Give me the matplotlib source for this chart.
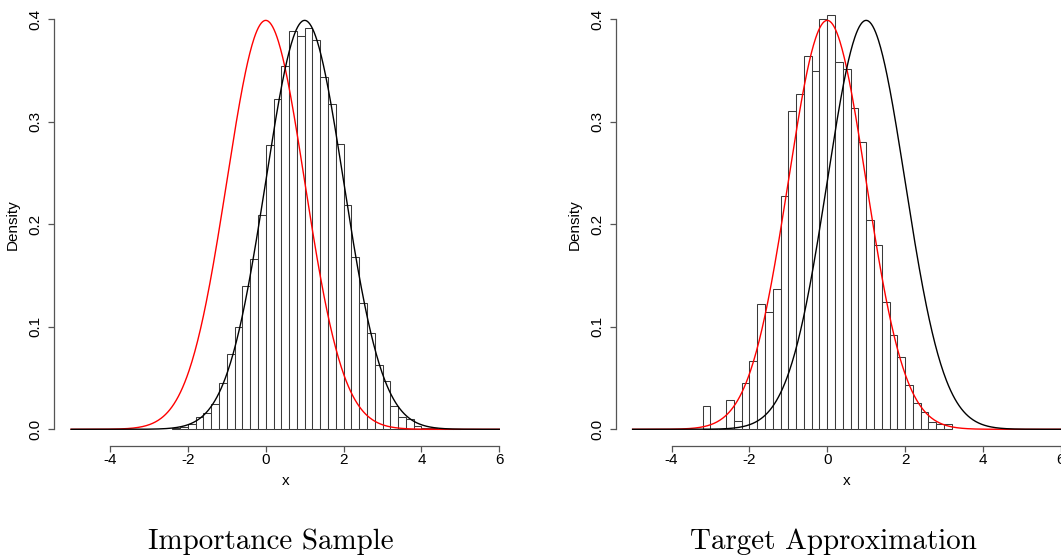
import numpy as np
import matplotlib
matplotlib.use("Agg")
import matplotlib.pyplot as plt

plt.rcParams["font.family"] = ["Liberation Sans", "DejaVu Sans"]

# Histogram of the importance sample (bin width 0.2), left edges and densities
imp_edges = [-2.4, -2.2, -2.0, -1.8, -1.6, -1.4, -1.2, -1.0, -0.8, -0.6,
             -0.4, -0.2, 0.0, 0.2, 0.4, 0.6, 0.8, 1.0, 1.2, 1.4,
             1.6, 1.8, 2.0, 2.2, 2.4, 2.6, 2.8, 3.0, 3.2, 3.4,
             3.6, 3.8, 4.0, 4.2, 4.4, 4.6, 4.8]
imp_density = [0.001, 0.002, 0.005, 0.012, 0.016, 0.025, 0.045, 0.073, 0.100, 0.140,
               0.166, 0.209, 0.277, 0.322, 0.354, 0.389, 0.384, 0.392, 0.380, 0.344,
               0.317, 0.278, 0.219, 0.168, 0.123, 0.094, 0.063, 0.047, 0.023, 0.012,
               0.010, 0.003, 0.0015, 0.001, 0.0005, 0.0005, 0.0005]

# Histogram of the resampled target approximation
tgt_edges = [-3.2, -3.0, -2.8, -2.6, -2.4, -2.2, -2.0, -1.8, -1.6, -1.4,
             -1.2, -1.0, -0.8, -0.6, -0.4, -0.2, 0.0, 0.2, 0.4, 0.6,
             0.8, 1.0, 1.2, 1.4, 1.6, 1.8, 2.0, 2.2, 2.4, 2.6,
             2.8, 3.0]
tgt_density = [0.023, 0.0, 0.0, 0.029, 0.008, 0.045, 0.067, 0.122, 0.114, 0.137,
               0.228, 0.311, 0.327, 0.364, 0.350, 0.400, 0.404, 0.358, 0.352, 0.313,
               0.280, 0.204, 0.180, 0.124, 0.092, 0.071, 0.043, 0.026, 0.017, 0.007,
               0.005, 0.005]

bin_width = 0.2

# Normal densities: target N(0,1) in red, proposal N(1,1) in black
target_mean, target_sd = 0.0, 1.0
proposal_mean, proposal_sd = 1.0, 1.0
curve_range = (-5.0, 6.0)

panel_titles = ["Importance Sample", "Target Approximation"]
x_ticks = [-4, -2, 0, 2, 4, 6]
y_ticks = [0.0, 0.1, 0.2, 0.3, 0.4]


def dnorm(x, m, s):
    return np.exp(-0.5 * ((x - m) / s) ** 2) / (s * np.sqrt(2 * np.pi))


W, H = 1061, 557
fig = plt.figure(figsize=(W / 100, H / 100), dpi=100)

ax_w = (516.4 - 54.0) / W
ax_b = (H - 445.7) / H
ax_h = (445.7 - 2.9) / H
lefts = [54.0 / W, 615.5 / W]
title_x = [271.0 / W, 833.0 / W]

xs = np.linspace(curve_range[0], curve_range[1], 600)

for i, (edges, dens) in enumerate([(imp_edges, imp_density), (tgt_edges, tgt_density)]):
    ax = fig.add_axes([lefts[i], ax_b, ax_w, ax_h])
    ax.bar(edges, dens, width=bin_width, align="edge", facecolor="white",
           edgecolor="#3a3a3a", linewidth=0.75, zorder=1)
    ax.plot(xs, dnorm(xs, target_mean, target_sd), color="#ff0000", lw=1.0, zorder=3)
    ax.plot(xs, dnorm(xs, proposal_mean, proposal_sd), color="black", lw=1.0, zorder=3)

    ax.set_xlim(-5.44, 6.44)
    ax.set_ylim(-0.016, 0.416)
    for s in ["top", "right"]:
        ax.spines[s].set_visible(False)
    ax.spines["left"].set_bounds(0.0, 0.4)
    ax.spines["bottom"].set_bounds(-4, 6)
    for s in ["left", "bottom"]:
        ax.spines[s].set_color("#555555")
        ax.spines[s].set_linewidth(0.9)

    ax.set_xticks(x_ticks)
    ax.set_xticklabels([str(t) for t in x_ticks])
    ax.set_yticks(y_ticks)
    ax.set_yticklabels([f"{t:.1f}" for t in y_ticks], rotation=90, va="center")
    ax.tick_params(axis="x", length=4.3, width=0.9, color="#555555", pad=1.0,
                   labelsize=11)
    ax.tick_params(axis="y", length=4.3, width=0.9, color="#555555", pad=4.0,
                   labelsize=11)
    ax.set_xlabel("x", fontsize=11, labelpad=5)
    ax.set_ylabel("Density", fontsize=11, labelpad=6)

    fig.text(title_x[i], (H - 549) / H, panel_titles[i], family="cmr10",
             fontsize=20.9, ha="center", va="baseline")

fig.savefig("out.png", dpi=100)
